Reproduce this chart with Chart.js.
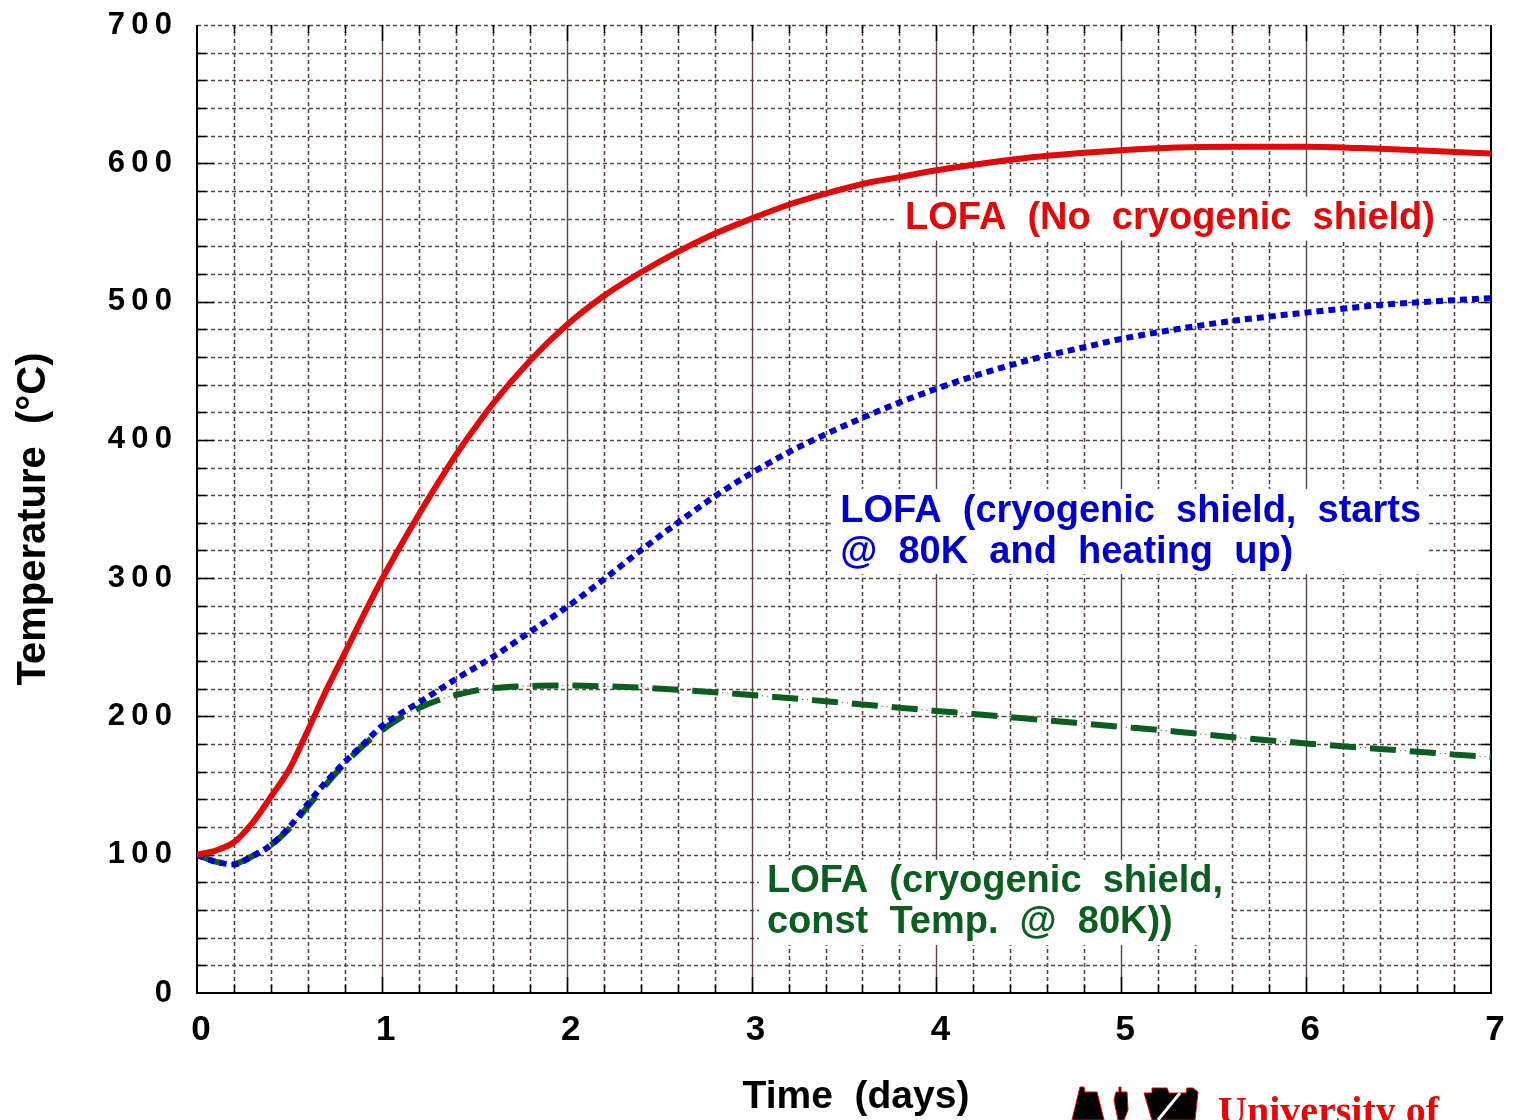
<!DOCTYPE html>
<html>
<head>
<meta charset="utf-8">
<title>LOFA temperature</title>
<script src="https://cdn.jsdelivr.net/npm/chart.js@4.4.1/dist/chart.umd.min.js"></script>
<style>
  html, body { margin: 0; padding: 0; background: #fff; }
  #wrap { position: relative; width: 1513px; height: 1120px; }
</style>
</head>
<body>
<div id="wrap"><canvas id="grafico"></canvas></div>
<script>
// values (time in days, temperature in °C)
const timeNoShield = [0, 0.1, 0.2, 0.3, 0.4, 0.5, 0.6, 0.7, 0.8, 0.9, 1.0, 1.1, 1.2, 1.3, 1.4, 1.5, 1.6, 1.8, 2.0, 2.2, 2.4, 2.6, 2.8, 3.0, 3.2, 3.4, 3.6, 3.8, 4.0, 4.2, 4.4, 4.6, 5.0, 5.3, 5.6, 6.0, 6.3, 6.6, 7.0];
const tempNoShield = [100, 103, 109, 123, 142, 162, 190, 219, 246, 273, 299, 323, 346, 368, 389, 408, 426, 457, 483, 504, 521, 536, 549, 560, 570, 578, 585, 590, 595, 599, 602.5, 605.5, 609.5, 611.5, 612, 612, 611, 609.5, 607];

const timeHeating = [0, 0.1, 0.2, 0.3, 0.4, 0.5, 0.6, 0.7, 0.8, 0.9, 1.0, 1.1, 1.2, 1.4, 1.6, 1.8, 2.0, 2.2, 2.4, 2.6, 2.8, 3.0, 3.2, 3.4, 3.6, 3.8, 4.0, 4.2, 4.4, 4.6, 4.8, 5.0, 5.3, 5.6, 6.0, 6.4, 6.8, 7.0];
const tempHeating = [100, 95, 93, 99, 107, 120, 137, 153, 167, 180, 193, 202, 210, 227, 243, 261, 279, 299, 320, 340, 359, 376, 391, 404, 416, 427, 437, 446, 454, 461, 467, 473, 480, 486, 492, 497.5, 501, 502.5];

const timeConst = [0, 0.1, 0.2, 0.3, 0.4, 0.5, 0.6, 0.7, 0.8, 0.9, 1.0, 1.1, 1.2, 1.3, 1.4, 1.5, 1.6, 1.8, 2.0, 2.2, 2.4, 2.6, 2.8, 3.0, 3.2, 3.4, 3.6, 3.8, 4.0, 4.2, 4.5, 5.0, 5.3, 5.6, 6.0, 6.4, 6.8, 7.0];
const tempConst = [100, 95, 93.5, 99, 107, 119, 135, 151, 166, 179, 190, 199, 206, 211.5, 215.5, 218.5, 220.5, 222, 222.3, 221.8, 220.8, 219.3, 217.5, 215.5, 213.3, 211, 208.7, 206.3, 204, 201.8, 198.3, 192.5, 189, 185, 180.5, 176.5, 172.5, 170.5];

const xTicks = [0, 1, 2, 3, 4, 5, 6, 7];
const yTicks = [0, 100, 200, 300, 400, 500, 600, 700];

const xTitle = "Time  (days)";
const yTitle = "Temperature  (°C)";
const noteNoShield = ["LOFA  (No  cryogenic  shield)"];
const noteHeating = ["LOFA  (cryogenic  shield,  starts", "@  80K  and  heating  up)"];
const noteConst = ["LOFA  (cryogenic  shield,", "const  Temp.  @  80K))"];

const RED = "#e00a0a";
const BLUE = "#0000cc";
const GREEN = "#0b5e1f";
const GRID = "#5b4540";
const FONT = '"Liberation Sans", Arial, sans-serif';

const pts = (xs, ys) => xs.map((t, i) => ({ x: t, y: ys[i] }));

// where the text notes sit (data units of the left edge / first line centre)
const notes = [
  { lines: noteNoShield, t: 3.83, temp: 560, color: RED },
  { lines: noteHeating, t: 3.48, temp: 348.5, color: BLUE },
  { lines: noteConst, t: 3.083, temp: 80.3, color: GREEN }
];

// no extra label padding, the plot box is fixed by layout padding
const noPad = s => { s.paddingTop = 0; s.paddingBottom = 0; s.paddingLeft = 0; s.paddingRight = 0; };

// grid paper, inner ticks, frame and the text boxes
const paperPlugin = {
  id: "paper",
  beforeDatasetsDraw(chart) {
    const { ctx, chartArea: a, scales: { x, y } } = chart;
    ctx.save();

    // horizontal dotted lines every 20
    ctx.strokeStyle = GRID;
    ctx.lineWidth = 1.6;
    ctx.setLineDash([4, 3]);
    for (let j = 1; j <= 35; j++) {
      const py = Math.round(y.getPixelForValue(j * 20)) + 0.5;
      ctx.beginPath();
      ctx.moveTo(a.left, py);
      ctx.lineTo(a.right, py);
      ctx.stroke();
    }
    // vertical lines every 0.2 day, solid on whole days
    for (let i = 1; i < 35; i++) {
      const px = Math.round(x.getPixelForValue(i * 0.2)) + 0.5;
      ctx.beginPath();
      if (i % 5 === 0) {
        ctx.setLineDash([]);
        ctx.lineWidth = 1.4;
      } else {
        ctx.setLineDash([4, 3]);
        ctx.lineWidth = 1.6;
      }
      ctx.moveTo(px, a.top);
      ctx.lineTo(px, a.bottom);
      ctx.stroke();
    }

    // inner tick marks
    ctx.setLineDash([]);
    ctx.strokeStyle = "#000";
    ctx.lineWidth = 1.5;
    for (let i = 1; i < 35; i++) {
      const px = Math.round(x.getPixelForValue(i * 0.2)) + 0.5;
      const len = i % 5 === 0 ? 16 : 8;
      ctx.beginPath();
      ctx.moveTo(px, a.bottom);
      ctx.lineTo(px, a.bottom - len);
      ctx.moveTo(px, a.top);
      ctx.lineTo(px, a.top + len);
      ctx.stroke();
    }
    for (let j = 1; j < 35; j++) {
      const py = Math.round(y.getPixelForValue(j * 20)) + 0.5;
      const len = j % 5 === 0 ? 17 : 9;
      ctx.beginPath();
      ctx.moveTo(a.left, py);
      ctx.lineTo(a.left + len, py);
      ctx.moveTo(a.right, py);
      ctx.lineTo(a.right - 10, py);
      ctx.stroke();
    }

    // frame: left, bottom, right
    ctx.lineWidth = 2;
    ctx.beginPath();
    ctx.moveTo(a.left, a.top);
    ctx.lineTo(a.left, a.bottom);
    ctx.lineTo(a.right, a.bottom);
    ctx.lineTo(a.right, a.top);
    ctx.stroke();

    // notes with white background
    ctx.font = `bold 38px ${FONT}`;
    ctx.textBaseline = "middle";
    ctx.textAlign = "left";
    const lineH = 41;
    notes.forEach(n => {
      const x0 = x.getPixelForValue(n.t);
      const y0 = y.getPixelForValue(n.temp);
      const w = Math.max(...n.lines.map(l => ctx.measureText(l).width));
      ctx.fillStyle = "#fff";
      ctx.fillRect(x0 - 8, y0 - 22, w + 16, lineH * (n.lines.length - 1) + 44);
      ctx.fillStyle = n.color;
      n.lines.forEach((l, k) => ctx.fillText(l, x0, y0 + k * lineH));
    });

    ctx.restore();
  }
};

// axis titles (placed like the original, a bit off centre) and the logo
const extrasPlugin = {
  id: "extras",
  afterDraw(chart) {
    const ctx = chart.ctx;
    ctx.save();
    ctx.fillStyle = "#000";
    ctx.font = `bold 39px ${FONT}`;
    ctx.textAlign = "center";
    ctx.textBaseline = "middle";
    ctx.fillText(xTitle, 856, 1097);

    ctx.save();
    ctx.translate(34, 519);
    ctx.rotate(-Math.PI / 2);
    ctx.font = `bold 40px ${FONT}`;
    ctx.fillText(yTitle, 0, 0);
    ctx.restore();

    const shapes = [
      [[1080, 1087], [1084, 1087], [1085, 1092], [1097, 1092], [1104, 1120], [1072, 1120]],
      [[1116, 1092], [1119, 1092], [1119, 1087], [1121, 1087], [1121, 1092], [1127, 1092], [1128, 1110], [1124, 1120], [1118, 1120], [1114, 1100]],
      [[1144, 1093], [1152, 1093], [1152, 1088], [1167, 1088], [1169, 1093], [1186, 1093], [1187, 1088], [1193, 1088], [1198, 1092], [1195, 1120], [1152, 1120]]
    ];
    ctx.strokeStyle = RED;
    ctx.lineWidth = 1;
    shapes.forEach(s => {
      ctx.beginPath();
      s.forEach(([px, py], k) => (k ? ctx.lineTo(px, py) : ctx.moveTo(px, py)));
      ctx.closePath();
      ctx.fill();
      ctx.stroke();
    });
    ctx.strokeStyle = "#fff";
    ctx.lineWidth = 3;
    ctx.beginPath();
    ctx.moveTo(1180, 1093);
    ctx.lineTo(1158, 1120);
    ctx.stroke();
    ctx.fillStyle = RED;
    ctx.font = 'bold 40px "Liberation Serif", "Times New Roman", serif';
    ctx.textAlign = "left";
    ctx.textBaseline = "alphabetic";
    ctx.fillText("University of", 1218, 1124);
    ctx.restore();
  }
};

const ctx = document.getElementById("grafico").getContext("2d");

new Chart(ctx, {
  type: "line",
  data: {
    datasets: [
      { label: "LOFA (No cryogenic shield)", data: pts(timeNoShield, tempNoShield), borderColor: RED, borderWidth: 6 },
      { label: "LOFA (cryogenic shield, heating up)", data: pts(timeHeating, tempHeating), borderColor: BLUE, borderWidth: 6, borderDash: [7, 5] },
      { label: "LOFA (cryogenic shield, const 80K)", data: pts(timeConst, tempConst), borderColor: GREEN, borderWidth: 6, borderDash: [26, 14] },
      { label: "const 80K (thin)", data: pts(timeConst, tempConst), borderColor: GREEN, borderWidth: 1, borderDash: [1, 4] }
    ]
  },
  options: {
    responsive: true,
    maintainAspectRatio: false,
    animation: false,
    layout: { padding: { top: 25, right: 22, left: 0, bottom: 0 } },
    plugins: { legend: { display: false }, tooltip: { enabled: false } },
    elements: {
      point: { radius: 0 },
      line: { cubicInterpolationMode: "monotone", borderCapStyle: "butt", fill: false }
    },
    scales: {
      x: {
        type: "linear",
        min: 0,
        max: 7,
        afterFit: s => { s.height = 127; noPad(s); },
        afterBuildTicks: s => { s.ticks = xTicks.map(v => ({ value: v })); },
        grid: { display: false, drawTicks: false },
        border: { display: false },
        ticks: {
          padding: 16,
          labelOffset: 4,
          maxRotation: 0,
          color: "#000",
          font: { family: FONT, size: 35, weight: "bold" },
          callback: v => String(v)
        }
      },
      y: {
        type: "linear",
        min: 0,
        max: 700,
        afterFit: s => { s.width = 197; noPad(s); },
        afterBuildTicks: s => { s.ticks = yTicks.map(v => ({ value: v })); },
        grid: { display: false, drawTicks: false },
        border: { display: false },
        ticks: {
          padding: 25,
          color: "#000",
          font: { family: FONT, size: 31, weight: "bold" },
          callback: v => String(v).split("").join("\u2009")
        }
      }
    }
  },
  plugins: [paperPlugin, extrasPlugin]
});
</script>
</body>
</html>
